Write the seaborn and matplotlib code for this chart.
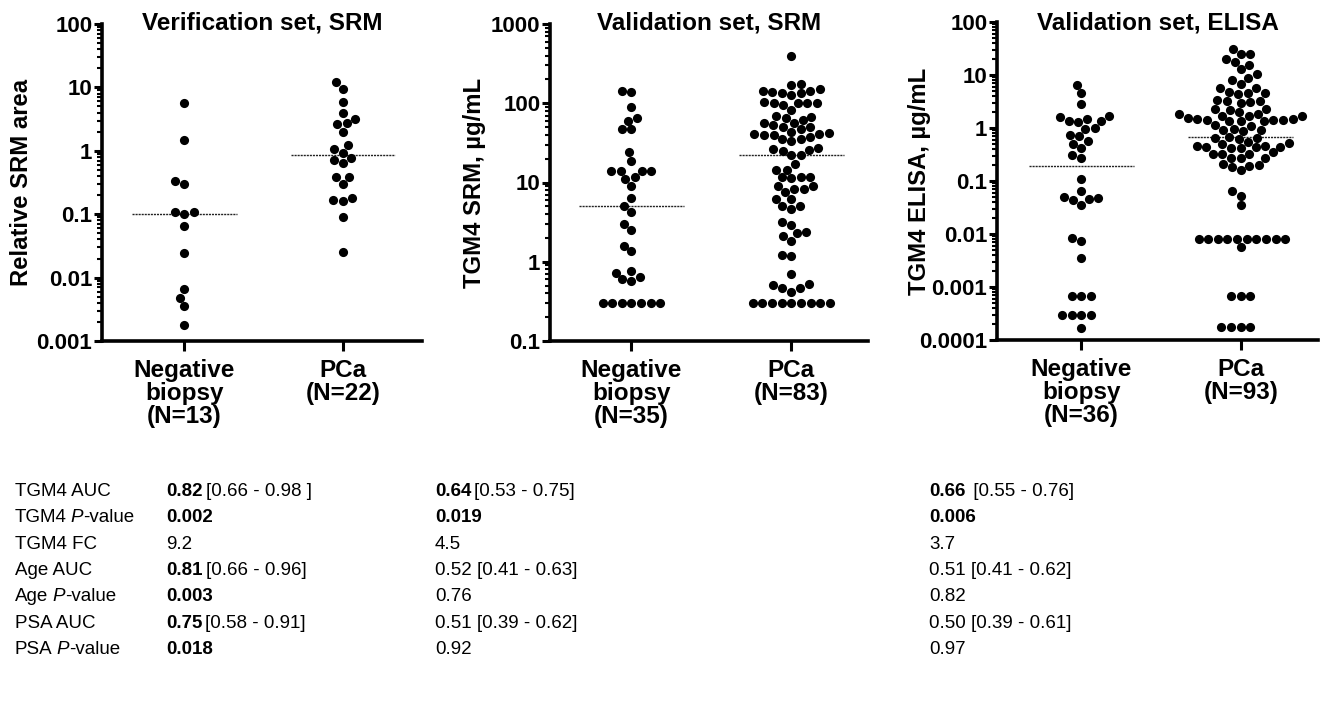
import numpy as np
import pandas as pd
import matplotlib
matplotlib.use('Agg')
import matplotlib.pyplot as plt
import seaborn as sns
from matplotlib import font_manager
from matplotlib.ticker import FixedLocator, FuncFormatter, LogLocator, NullFormatter

# --- data ---
verif_neg = [5.6, 1.5, 0.34, 0.30, 0.11, 0.107, 0.10, 0.064, 0.024, 0.0066, 0.0048, 0.0036, 0.0018]
verif_pca = [12, 9.6, 5.9, 3.9, 3.2, 2.7, 2.6, 2.0, 1.23, 1.05, 0.93, 0.77, 0.71, 0.65,
             0.39, 0.38, 0.30, 0.18, 0.166, 0.16, 0.089, 0.025]

srm_neg = [143, 140, 90, 65, 60, 47, 47, 24, 18.6, 14, 14, 14, 14, 11.7, 11, 9.1, 6.4, 5.0,
           4.2, 3.0, 2.5, 1.6, 1.37, 0.77, 0.73, 0.65, 0.60, 0.57,
           0.3, 0.3, 0.3, 0.3, 0.3, 0.3, 0.3]
srm_pca = [400, 175, 171, 150, 144, 141, 140, 136, 133, 127, 103, 101, 101, 99.6, 99.6, 95, 82,
           69, 68, 66, 61, 57, 56, 53, 50, 50, 47, 44, 42, 41, 41, 40, 40, 37, 35, 35, 33,
           27, 26.6, 25.6, 25, 22, 22, 17, 14.4, 14.4, 11.8, 11.8, 11.6, 11.3,
           9.0, 9.0, 8.2, 8.2, 7.6, 6.2, 6.2, 5.0, 5.0, 4.6, 3.2, 2.9, 2.4, 2.3, 2.1, 1.84,
           1.22, 1.18, 0.71, 0.52, 0.51, 0.46, 0.46, 0.42,
           0.3, 0.3, 0.3, 0.3, 0.3, 0.3, 0.3, 0.3, 0.3]

elisa_neg = [6.4, 4.5, 2.8, 1.72, 1.62, 1.47, 1.36, 1.36, 1.27, 1.0, 0.96, 0.74, 0.70, 0.57,
             0.49, 0.42, 0.31, 0.27, 0.107, 0.065, 0.049, 0.0475, 0.045, 0.043, 0.035,
             0.0083, 0.0074, 0.0035, 0.00068, 0.00068, 0.00068,
             0.0003, 0.0003, 0.0003, 0.0003, 0.00017]
elisa_pca = [30.5, 24.6, 24.6, 19.8, 17.6, 15.3, 12.8, 10.3, 8.6, 8.2, 6.7, 5.8, 5.6,
             4.8, 4.6, 4.6, 4.4, 3.4, 3.3, 3.2, 3.1, 3.0, 2.3, 2.3, 2.2, 2.0,
             1.85, 1.8, 1.7, 1.7, 1.7, 1.55, 1.5, 1.45, 1.4, 1.4, 1.4, 1.35, 1.35, 1.35,
             1.15, 1.1, 0.95, 0.92, 0.9, 0.88,
             0.67, 0.65, 0.65, 0.62, 0.55, 0.52, 0.50, 0.45, 0.45, 0.44, 0.44, 0.43, 0.42, 0.42,
             0.35, 0.33, 0.32, 0.32, 0.27, 0.27, 0.27, 0.21, 0.20, 0.19, 0.18, 0.16,
             0.065, 0.053, 0.035,
             0.0081, 0.0081, 0.0081, 0.0081, 0.0081, 0.0081, 0.0081, 0.0081, 0.0081, 0.0081,
             0.0056, 0.00068, 0.00068, 0.00068, 0.000174, 0.000174, 0.000174, 0.000174]

titles = ['Verification set, SRM', 'Validation set, SRM', 'Validation set, ELISA']
ylabels = ['Relative SRM area', 'TGM4 SRM, µg/mL', 'TGM4 ELISA, µg/mL']
decades = [[0.001, 0.01, 0.1, 1, 10, 100],
           [0.1, 1, 10, 100, 1000],
           [0.0001, 0.001, 0.01, 0.1, 1, 10, 100]]

# table below the panels: (bold part, regular part) per cell
row_labels = ['TGM4 AUC', 'TGM4 P-value', 'TGM4 FC', 'Age AUC', 'Age P-value', 'PSA AUC', 'PSA P-value']
verif_stats = [('0.82', '[0.66 - 0.98 ]'), ('0.002', ''), ('', '9.2'), ('0.81', '[0.66 - 0.96]'),
               ('0.003', ''), ('0.75', '[0.58 - 0.91]'), ('0.018', '')]
srm_stats = [('0.64', '[0.53 - 0.75]'), ('0.019', ''), ('', '4.5'), ('', '0.52 [0.41 - 0.63]'),
             ('', '0.76'), ('', '0.51 [0.39 - 0.62]'), ('', '0.92')]
elisa_stats = [('0.66', ' [0.55 - 0.76]'), ('0.006', ''), ('', '3.7'), ('', '0.51 [0.41 - 0.62]'),
               ('', '0.82'), ('', '0.50 [0.39 - 0.61]'), ('', '0.97')]

# --- layout (pixels) ---
W, H = 1320, 704
sns.set_style('ticks')
plt.rcParams['font.family'] = ['Liberation Sans', 'DejaVu Sans']
for key in ['text.color', 'axes.labelcolor', 'xtick.color', 'ytick.color', 'axes.edgecolor']:
    plt.rcParams[key] = 'black'
installed = {f.name for f in font_manager.fontManager.ttflist}
if 'Liberation Sans Narrow' in installed:
    table_font, table_size = ['Liberation Sans Narrow', 'DejaVu Sans'], 15.5
else:
    table_font, table_size = ['Liberation Sans', 'DejaVu Sans'], 13.5

fig = plt.figure(figsize=(W / 100, H / 100), dpi=100)

boxes = [(102, 24, 422, 341), (550, 24, 868, 341), (997, 22, 1318, 340)]
xlims = [(-0.52, 1.5), (-0.51, 1.48), (-0.53, 1.485)]
ylabel_x = [-0.215, -0.2, -0.205]
title_y = [0.983, 0.983, 0.976]
groups = [(verif_neg, verif_pca), (srm_neg, srm_pca), (elisa_neg, elisa_pca)]

for i, (neg, pca) in enumerate(groups):
    x0, y0, x1, y1 = boxes[i]
    ax = fig.add_axes([x0 / W, 1 - y1 / H, (x1 - x0) / W, (y1 - y0) / H])
    cats = [f'Negative\nbiopsy\n(N={len(neg)})', f'PCa\n(N={len(pca)})']
    df = pd.DataFrame({'group': [cats[0]] * len(neg) + [cats[1]] * len(pca),
                       'value': neg + pca})
    sns.swarmplot(data=df, x='group', y='value', order=cats, color='black',
                  size=6.6, linewidth=0, log_scale=True, ax=ax, zorder=3)

    # median lines
    for j, vals in enumerate([neg, pca]):
        ax.hlines(np.median(vals), j - 0.33, j + 0.33, color='#222222', lw=1.0,
                  linestyle=(0, (1.5, 0.7)), zorder=2)

    ax.set_xlim(*xlims[i])
    ax.set_ylim(decades[i][0], decades[i][-1])
    ax.yaxis.set_major_locator(FixedLocator(decades[i]))
    ax.yaxis.set_major_formatter(FuncFormatter(lambda v, p: f'{v:g}'))
    ax.yaxis.set_minor_locator(LogLocator(base=10, subs=np.arange(2, 10) * 1.0, numticks=30))
    ax.yaxis.set_minor_formatter(NullFormatter())

    ax.set_xticks([0, 1])
    ax.set_xticklabels(cats, fontsize=17.5, fontweight='bold', linespacing=1.0)
    ax.set_xlabel('')
    ax.set_ylabel(ylabels[i], fontsize=17.2, fontweight='bold')
    ax.yaxis.set_label_coords(ylabel_x[i], 0.5)

    ax.tick_params(axis='y', which='major', length=6, width=2.2, labelsize=16, pad=1)
    ax.tick_params(axis='y', which='minor', length=3.5, width=1.5)
    ax.tick_params(axis='x', length=7, width=2.2, pad=6)
    for lbl in ax.get_yticklabels():
        lbl.set_fontweight('bold')
    ax.spines[['top', 'right']].set_visible(False)
    ax.spines[['left', 'bottom']].set_linewidth(2.6)

    ax.text(0.5, title_y[i], titles[i], transform=ax.transAxes, ha='center',
            va='baseline', fontsize=17.5, fontweight='bold')

# --- statistics table ---
renderer = fig.canvas.get_renderer()


def put_parts(x, y, parts):
    # draw text pieces one after another on the same baseline
    for txt, weight, style, gap in parts:
        if not txt:
            continue
        t = fig.text(x / W, 1 - y / H, txt, fontsize=table_size, fontweight=weight,
                     fontstyle=style, family=table_font, ha='left', va='baseline')
        x += t.get_window_extent(renderer).width + gap


row_y = [489 + k * 26.33 for k in range(len(row_labels))]
col_x = [166, 435, 929]

for k, label in enumerate(row_labels):
    yb = row_y[k] + 7
    if 'P-value' in label:
        head = label.split('P-value')[0].strip()
        put_parts(15, yb, [(head, 'normal', 'normal', 4), ('P', 'normal', 'italic', 0),
                           ('-value', 'normal', 'normal', 0)])
    else:
        put_parts(15, yb, [(label, 'normal', 'normal', 0)])
    for c, stats in enumerate([verif_stats, srm_stats, elisa_stats]):
        bold, rest = stats[k]
        put_parts(col_x[c], yb, [(bold, 'bold', 'normal', 3), (rest, 'normal', 'normal', 0)])

fig.savefig('out.png', dpi=100)
